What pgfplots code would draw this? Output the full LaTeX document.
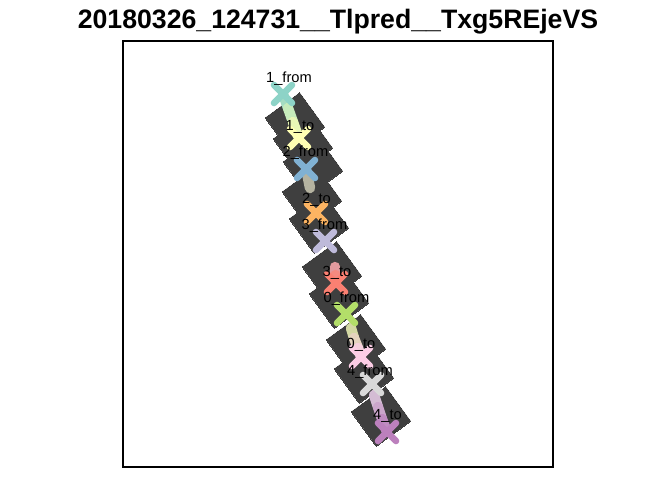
\documentclass[border=0pt]{standalone}
\usepackage{fontspec}
\setmainfont{Liberation Sans}
\usepackage{pgfplots}
\pgfplotsset{compat=1.18}
\definecolor{sqgrey}{HTML}{3F3F3F}
\definecolor{cA}{HTML}{8DD3C7}
\definecolor{cB}{HTML}{FFFFB3}
\definecolor{cC}{HTML}{80B1D3}
\definecolor{cD}{HTML}{FDB462}
\definecolor{cE}{HTML}{BEBADA}
\definecolor{cF}{HTML}{FB8072}
\definecolor{cG}{HTML}{B3DE69}
\definecolor{cH}{HTML}{FCCDE5}
\definecolor{cI}{HTML}{D9D9D9}
\definecolor{cJ}{HTML}{BC80BD}
\begin{document}
\begin{tikzpicture}
\begin{axis}[
  scale only axis, width=322.5pt, height=319.5pt,
  xmin=123, xmax=553, ymin=41, ymax=467, y dir=reverse,
  xtick=\empty, ytick=\empty,
  axis line style={black, line width=0.8pt},
  clip=false, clip marker paths=true,
]
\path (axis cs:0,0) rectangle (axis cs:672,480);
\node[font=\bfseries\fontsize{20}{24}\selectfont] at (axis cs:338,22) {20180326\_124731\_\_Tlpred\_\_Txg5REjeVS};
% dark squares
\addplot[only marks, mark=square*, mark size=16pt, mark options={rotate=36, fill=sqgrey, draw=sqgrey, line width=0pt}] coordinates {
(295,122.5) (303,143.5) (313,166.5) (312,196.5) (319,223.5)
(332,271.5) (339,298.5) (356,344.5) (364,373.5) (381,416.5)};
% segments
\pgfplotsset{seg/.style={no marks, line width=7.8pt, line cap=round}}
\addplot[seg, color={rgb,255:red,164;green,220;blue,194}] coordinates {(283,94) (288,108)};
\addplot[seg, color={rgb,255:red,198;green,235;blue,187}] coordinates {(288,108) (293,122)};
\addplot[seg, color={rgb,255:red,232;green,246;blue,182}] coordinates {(293,122) (298,136)};
\addplot[seg, color={rgb,255:red,152;green,180;blue,198}] coordinates {(306,169) (308,178)};
\addplot[seg, color={rgb,255:red,181;green,179;blue,160}] coordinates {(308,178) (310,188)};
\addplot[seg, color={rgb,255:red,226;green,154;blue,158}] coordinates {(335,267) (335.5,275)};
\addplot[seg, color={rgb,255:red,245;green,138;blue,128}] coordinates {(335.5,275) (336,283)};
\addplot[seg, color={rgb,255:red,211;green,216;blue,163}] coordinates {(351,328) (354,338)};
\addplot[seg, color={rgb,255:red,229;green,211;blue,190}] coordinates {(354,338) (358,348)};
\addplot[seg, color={rgb,255:red,245;green,207;blue,220}] coordinates {(358,348) (361,357)};
\addplot[seg, color={rgb,255:red,212;green,188;blue,212}] coordinates {(374,395) (378,407)};
\addplot[seg, color={rgb,255:red,203;green,166;blue,203}] coordinates {(378,407) (382,419)};
\addplot[seg, color={rgb,255:red,192;green,140;blue,193}] coordinates {(382,419) (387,432)};
% X markers
\pgfplotsset{xm/.style={only marks, mark=x, mark size=9.5pt, mark options={draw=#1, line width=5pt, line cap=round}}}
\addplot[xm=cA] coordinates {(283,94)};
\addplot[xm=cB] coordinates {(299,138)};
\addplot[xm=cC] coordinates {(306,169)};
\addplot[xm=cD] coordinates {(316,213)};
\addplot[xm=cE] coordinates {(325,241)};
\addplot[xm=cF] coordinates {(336,283)};
\addplot[xm=cG] coordinates {(346,314)};
\addplot[xm=cH] coordinates {(361,357)};
\addplot[xm=cI] coordinates {(372,384)};
\addplot[xm=cJ] coordinates {(387,432)};
% labels
\addplot[draw=none, mark=none, nodes near coords, point meta=explicit symbolic,
  every node near coord/.style={anchor=center, inner sep=0pt, text=black, font=\fontsize{11}{13}\selectfont}]
  table[meta=label] {
x y label
289 79 1\_from
300 127 1\_to
305.5 153 2\_from
316.5 200 2\_to
324.5 226 3\_from
337 273 3\_to
346.5 299 0\_from
361 345 0\_to
370 372 4\_from
387.5 416 4\_to
};
\end{axis}
\end{tikzpicture}
\end{document}
